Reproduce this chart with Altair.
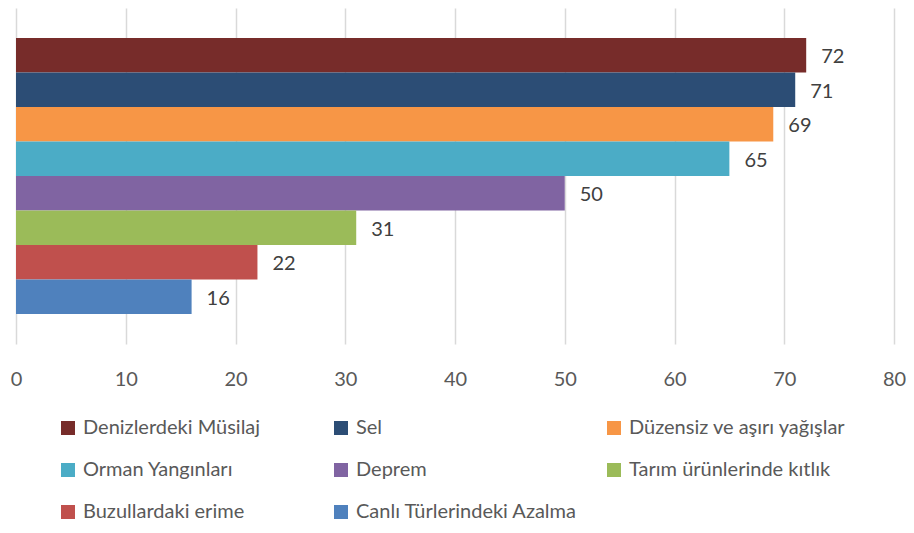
import altair as alt
import pandas as pd

categories = ["Denizlerdeki Müsilaj", "Sel", "Düzensiz ve aşırı yağışlar", "Orman Yangınları",
              "Deprem", "Tarım ürünlerinde kıtlık", "Buzullardaki erime", "Canlı Türlerindeki Azalma"]
values = [72, 71, 69, 65, 50, 31, 22, 16]
colors = ["#772C2A", "#2C4D75", "#F79646", "#4BACC6", "#8064A2", "#9BBB59", "#C0504D", "#4F81BD"]
x_ticks = [0, 10, 20, 30, 40, 50, 60, 70, 80]

df = pd.DataFrame({"cat": categories, "val": values})
FONT = "Lato"

y_enc = alt.Y("cat:N", sort=categories, axis=None,
              scale=alt.Scale(paddingInner=0, paddingOuter=0.87))
x_enc = alt.X("val:Q", scale=alt.Scale(domain=[0, 80], nice=False),
              axis=alt.Axis(values=x_ticks, title=None, domain=False, ticks=False,
                            labelFlush=False,
                            labelPadding=25, labelFontSize=20, labelColor="#595959",
                            labelFont=FONT, grid=True, gridColor="#d9d9d9", gridWidth=1.5))

bars = alt.Chart(df).mark_bar().encode(
    x=x_enc, y=y_enc,
    color=alt.Color("cat:N", sort=categories,
                    scale=alt.Scale(domain=categories, range=colors),
                    legend=alt.Legend(title=None, orient="none", legendX=42, legendY=410,
                                      direction="horizontal",
                                      columns=3, gridAlign="all", columnPadding=26,
                                      rowPadding=22, symbolType="square", symbolSize=196,
                                      symbolStrokeWidth=0, labelFontSize=20,
                                      labelFont=FONT, labelColor="#595959",
                                      labelOffset=5, labelLimit=400)),
)

labels = alt.Chart(df).mark_text(align="left", baseline="middle", dx=15, dy=2,
                                 fontSize=20, font=FONT, color="#404040").encode(
    x="val:Q", y=alt.Y("cat:N", sort=categories), text="val:Q")

chart = (bars + labels).properties(
    width=878, height=336,
    autosize=alt.AutoSizeParams(type="none"),
    padding={"left": 8, "top": 0, "right": 12, "bottom": 181},
).configure_view(stroke=None)

chart.save("out.html", embed_options={"renderer": "svg", "actions": False})
